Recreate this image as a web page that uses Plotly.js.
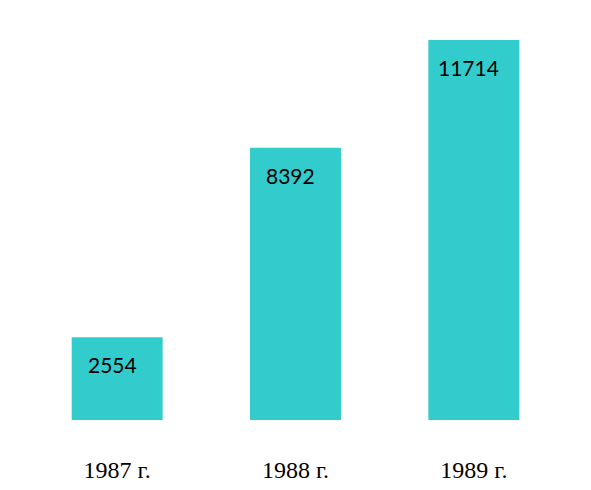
<!DOCTYPE html>
<html>
<head>
<meta charset="utf-8">
<script src="https://cdn.plot.ly/plotly-3.0.1.min.js"></script>
<style>html,body{margin:0;padding:0;background:#fff;}#chart{width:591px;height:490px;}</style>
</head>
<body>
<div id="chart"></div>
<script>
const categories = ["1987 г.", "1988 г.", "1989 г."];
const values = [2554, 8392, 11714];
const valueLabels = ["2554", "8392", "11714"];

const trace = {
  type: "bar",
  x: categories,
  y: values,
  marker: { color: "#33CCCC" },
  hoverinfo: "skip"
};

const annotations = categories.map((c, i) => ({
  x: c, y: values[i], xref: "x", yref: "y",
  text: valueLabels[i], showarrow: false,
  yanchor: "top", yshift: -13, xshift: -5,
  font: { family: "Lato, 'Open Sans', sans-serif", size: 21, color: "#000" }
}));

const layout = {
  width: 591, height: 490,
  margin: { l: 28, r: 28, t: 40, b: 70 },
  paper_bgcolor: "#fff", plot_bgcolor: "#fff",
  bargap: 0.49,
  showlegend: false,
  xaxis: {
    type: "category",
    showgrid: false, zeroline: false, showline: false, ticks: "",
    ticklabelstandoff: 33,
    tickfont: { family: "'Liberation Serif', 'Times New Roman', serif", size: 24, color: "#000" }
  },
  yaxis: {
    range: [0, Math.max(...values)],
    showgrid: false, zeroline: false, showline: false, ticks: "", showticklabels: false
  },
  annotations: annotations
};

Plotly.newPlot("chart", [trace], layout, { displayModeBar: false, staticPlot: true });
</script>
</body>
</html>
